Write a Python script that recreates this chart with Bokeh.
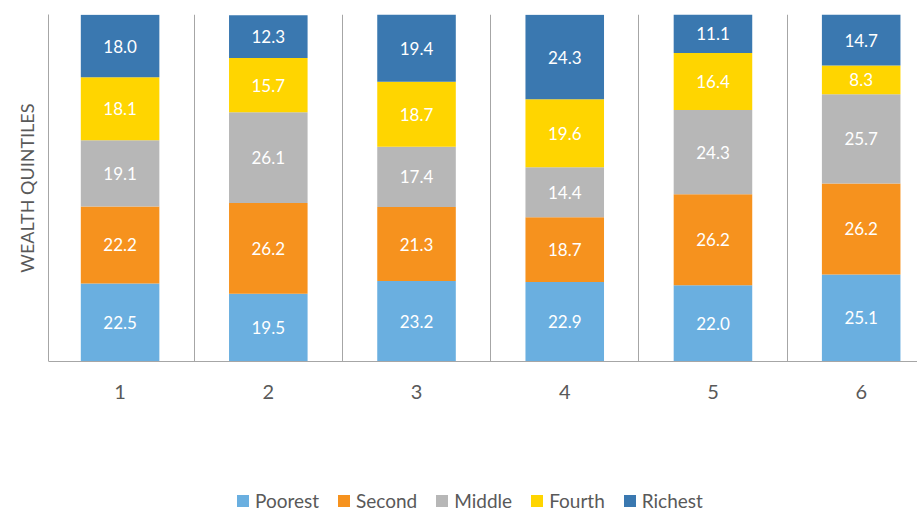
from bokeh.plotting import figure
from bokeh.models import ColumnDataSource, FixedTicker, LabelSet, Title
from bokeh.core.properties import value
from bokeh.embed import file_html
from bokeh.resources import INLINE

categories = ["1", "2", "3", "4", "5", "6"]
series = ["Poorest", "Second", "Middle", "Fourth", "Richest"]
poorest = [22.5, 19.5, 23.2, 22.9, 22.0, 25.1]
second = [22.2, 26.2, 21.3, 18.7, 26.2, 26.2]
middle = [19.1, 26.1, 17.4, 14.4, 24.3, 25.7]
fourth = [18.1, 15.7, 18.7, 19.6, 16.4, 8.3]
richest = [18.0, 12.3, 19.4, 24.3, 11.1, 14.7]
colors = ["#6AAFE0", "#F6921E", "#B7B7B7", "#FFD500", "#3A78B0"]

FONT = "Lato"
TXT = "#595959"

xs = list(range(1, len(categories) + 1))
data = {"x": xs, "Poorest": poorest, "Second": second, "Middle": middle,
        "Fourth": fourth, "Richest": richest}
src = ColumnDataSource(data)

# frame runs to the bottom of the page; the value axis covers 0..100
p = figure(width=917, height=512, output_backend="svg", toolbar_location=None,
           x_range=(0.517, 6.38), y_range=(-43.5, 100))
p.min_border_left = 48
p.min_border_right = 0
p.min_border_top = 14
p.min_border_bottom = 0
p.outline_line_color = None

p.vbar_stack(series, x="x", width=0.53, color=colors, source=src,
             line_color=None, legend_label=series)

# labels
lx, ly, lt = [], [], []
cum = [0.0] * len(xs)
for s in series:
    vals = data[s]
    for i, v in enumerate(vals):
        lx.append(xs[i])
        ly.append(cum[i] + v / 2)
        lt.append(f"{v:.1f}")
        cum[i] += v
lsrc = ColumnDataSource(dict(x=lx, y=ly, t=lt))
p.add_layout(LabelSet(x="x", y="y", text="t", source=lsrc, text_color="white",
                      text_font=value(FONT), text_font_size="17px",
                      text_align="center", text_baseline="middle"))

# axes
p.xaxis.fixed_location = 0
p.xaxis.ticker = FixedTicker(ticks=xs)
p.xaxis.major_label_overrides = {x: c for x, c in zip(xs, categories)}
p.xaxis.major_tick_line_color = None
p.xaxis.major_tick_out = 0
p.xaxis.minor_tick_line_color = None
p.xaxis.axis_line_color = "#A6A6A6"
p.xaxis.major_label_text_font = FONT
p.xaxis.major_label_text_font_size = "20px"
p.xaxis.major_label_text_color = TXT
p.xaxis.major_label_standoff = 23

p.yaxis.bounds = (0, 100)
p.yaxis.ticker = FixedTicker(ticks=[])
p.yaxis.major_tick_line_color = None
p.yaxis.major_tick_out = 0
p.yaxis.minor_tick_line_color = None
p.yaxis.major_label_text_font_size = "0px"
p.yaxis.axis_line_color = "#A6A6A6"

ytitle = Title(text="WEALTH QUINTILES", align="right", vertical_align="top",
               offset=89, text_font=FONT, text_font_size="18px",
               text_font_style="normal", text_color=TXT, standoff=18)
p.add_layout(ytitle, "left")

p.ygrid.grid_line_color = None
p.xgrid.ticker = FixedTicker(ticks=[1.5, 2.5, 3.5, 4.5, 5.5])
p.xgrid.cross_bounds = (0, 100)
p.xgrid.grid_line_color = "#A6A6A6"

lg = p.legend[0]
lg.orientation = "horizontal"
lg.location = (187, 0)
lg.padding = 0
lg.margin = 0
lg.spacing = 17
lg.glyph_width = 15
lg.glyph_height = 15
lg.label_standoff = 5
lg.border_line_color = None
lg.background_fill_alpha = 0
lg.label_text_font = FONT
lg.label_text_font_size = "19px"
lg.label_text_color = TXT

open("out.html", "w").write(file_html(p, INLINE))
